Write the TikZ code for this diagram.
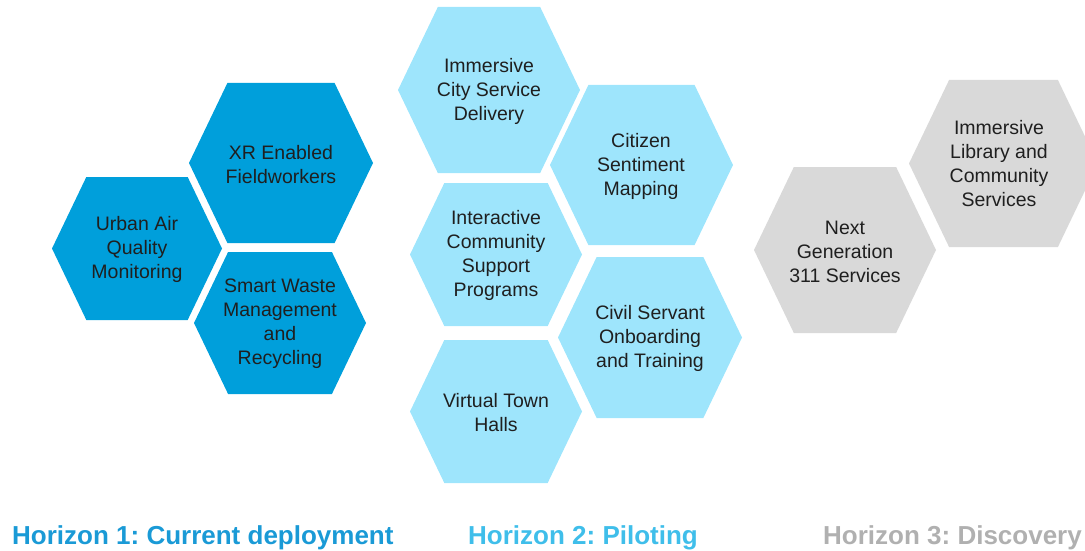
\documentclass[tikz,border=0pt]{standalone}
\usepackage{fontspec}
\setmainfont{Liberation Sans}
\frenchspacing

\definecolor{deploy}{HTML}{009FDB}
\definecolor{pilot}{HTML}{9EE5FC}
\definecolor{discover}{HTML}{D9D9D9}
\definecolor{deploytext}{HTML}{1A9AD6}
\definecolor{pilottext}{HTML}{3FBEEA}
\definecolor{discovertext}{HTML}{B0B0B0}

% flat-topped hexagon, half width / half height
\tikzset{
  pics/hexcell/.style args={#1/#2}{code={
    \path[pic actions] (-#1,0) -- ({-#1+0.48*#2},-#2) -- ({#1-0.48*#2},-#2)
      -- (#1,0) -- ({#1-0.48*#2},#2) -- ({-#1+0.48*#2},#2) -- cycle;
  }},
}

\begin{document}
\begin{tikzpicture}[x=1pt, y=-1pt,
  celltext/.style = {align=center, inner sep=0pt, text=black!88, font=\fontsize{19.5}{24}\selectfont},
  horizon/.style = {anchor=base west, inner sep=0pt, font=\fontsize{26}{30}\selectfont\bfseries}]
\useasboundingbox (0,0) rectangle (1085,551);

% horizon 1
\pic[fill=deploy] at (137,248.5) {hexcell=85/71.5};
\pic[fill=deploy] at (281,163) {hexcell=92/80};
\pic[fill=deploy] at (280,323) {hexcell=86/71};
\node[celltext] (urban) at (137,249) {Urban Air\\Quality\\Monitoring};
\node[celltext] (xr) at (281,165) {XR Enabled\\Fieldworkers};
\node[celltext] (waste) at (280,324) {Smart Waste\\Management\\and\\Recycling};

% horizon 2
\pic[fill=pilot] at (489,90) {hexcell=91/83};
\pic[fill=pilot] at (641.5,165) {hexcell=91.5/80};
\pic[fill=pilot] at (496,254.5) {hexcell=86/71.5};
\pic[fill=pilot] at (650,337.5) {hexcell=92/80.5};
\pic[fill=pilot] at (496,411.5) {hexcell=86/71.5};
\node[celltext] (city) at (489,91) {Immersive\\City Service\\Delivery};
\node[celltext] (citizen) at (641,166) {Citizen\\Sentiment\\Mapping};
\node[celltext] (community) at (496,255) {Interactive\\Community\\Support\\Programs};
\node[celltext] (servant) at (650,338) {Civil Servant\\Onboarding\\and Training};
\node[celltext] (townhall) at (496,413) {Virtual Town\\Halls};

% horizon 3
\pic[fill=discover] at (845,250) {hexcell=91/83};
\pic[fill=discover] at (1003.5,163.5) {hexcell=94.5/83.5};
\node[celltext] (nextgen) at (845,252) {Next\\Generation\\311 Services};
\node[celltext] (library) at (999,164) {Immersive\\Library and\\Community\\Services};

% horizon captions
\node[horizon, text=deploytext] (h1) at (12,544) {Horizon 1: Current deployment};
\node[horizon, text=pilottext] (h2) at (468,544) {Horizon 2: Piloting};
\node[horizon, text=discovertext] (h3) at (823,544) {Horizon 3: Discovery};
\end{tikzpicture}
\end{document}
